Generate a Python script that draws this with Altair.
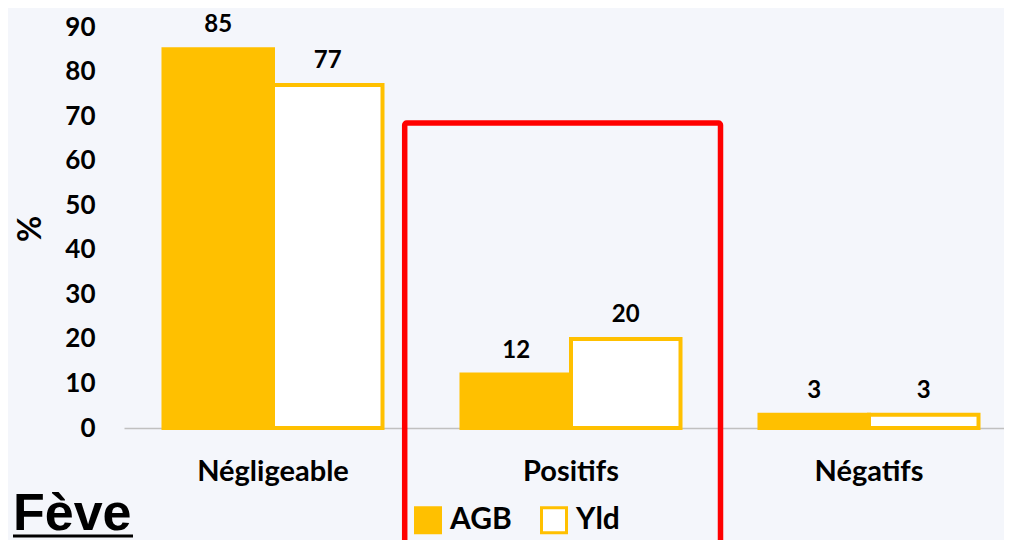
import altair as alt
import pandas as pd

categories = ["Négligeable", "Positifs", "Négatifs"]
series_names = ["AGB", "Yld"]
agb_values = [85, 12, 3]
yld_values = [77, 20, 3]
y_ticks = [0, 10, 20, 30, 40, 50, 60, 70, 80, 90]
panel_label = "Fève"

rows = []
for i, c in enumerate(categories):
    rows.append({"cat": c, "series": "AGB", "value": agb_values[i]})
    rows.append({"cat": c, "series": "Yld", "value": yld_values[i]})
df = pd.DataFrame(rows)

ORANGE = "#FFC000"
FONT = "Lato"

x_enc = alt.X(
    "cat:N",
    sort=categories,
    scale=alt.Scale(range=[0, 894], paddingInner=0.265, paddingOuter=0.1325),
    axis=alt.Axis(
        title=None, labelAngle=0, labelFont=FONT, labelFontSize=29,
        labelFontWeight="bold", labelColor="black", labelBaseline="alphabetic",
        labelPadding=52, ticks=False, tickSize=0, domainColor="#C0C0C0",
        domainWidth=1.5, grid=False,
    ),
)
y_enc = alt.Y(
    "value:Q",
    scale=alt.Scale(domain=[0, 90], nice=False),
    axis=alt.Axis(
        values=y_ticks, title="%", titleAngle=270, titleX=-94, titleY=201.5,
        titleFont=FONT, titleFontSize=32, titleFontWeight="bold", titleColor="black",
        titleAlign="center", titleBaseline="middle",
        labelFont=FONT, labelFontSize=26, labelFontWeight="bold", labelColor="black",
        labelPadding=29, ticks=False, tickSize=0, domain=False, grid=False,
    ),
)
xoff = alt.XOffset("series:N", sort=series_names,
                   scale=alt.Scale(paddingInner=0, paddingOuter=0))

bars = alt.Chart(df).mark_bar(stroke=ORANGE, strokeWidth=4).encode(
    x=x_enc,
    y=y_enc,
    xOffset=xoff,
    fill=alt.Fill(
        "series:N", sort=series_names,
        scale=alt.Scale(domain=series_names, range=[ORANGE, "white"]),
        legend=alt.Legend(
            title=None, orient="none", legendX=289, legendY=478,
            direction="horizontal", symbolType="square", symbolSize=625,
            symbolStrokeColor=ORANGE, symbolStrokeWidth=3,
            labelFont=FONT, labelFontSize=30, labelFontWeight="bold",
            labelColor="black", labelOffset=7, columnPadding=23, padding=0,
        ),
    ),
)

labels = alt.Chart(df).mark_text(
    font=FONT, fontSize=24, fontWeight="bold", dy=-17,
    baseline="alphabetic", color="black",
).encode(
    x=alt.X("cat:N", sort=categories),
    y="value:Q",
    xOffset=alt.XOffset("series:N", sort=series_names),
    text="value:Q",
)

box = alt.Chart(pd.DataFrame({"k": [1]})).mark_rect(
    fillOpacity=0, stroke="#FF0000", strokeWidth=5.5, cornerRadius=2
).encode(
    x=alt.value(280.7), x2=alt.value(596.5), y=alt.value(96), y2=alt.value(600)
)

feve = alt.Chart(pd.DataFrame({"t": [panel_label]})).mark_text(
    font="Liberation Sans", fontSize=52, fontWeight="bold", align="left",
    baseline="alphabetic", color="black",
).encode(text="t:N", x=alt.value(-111), y=alt.value(503))

underline = alt.Chart(pd.DataFrame({"k": [1]})).mark_rule(
    color="black", strokeWidth=3
).encode(x=alt.value(-111), x2=alt.value(9), y=alt.value(509))

chart = alt.layer(bars, labels, box, feve, underline).properties(
    width=880, height=401,
    autosize=alt.AutoSizeParams(type="none"),
    padding={"left": 116, "top": 19, "right": 0, "bottom": 112},
    background="#F4F6FB",
).configure_view(stroke=None)

chart.save("out.html", embed_options={"renderer": "svg", "actions": False})
